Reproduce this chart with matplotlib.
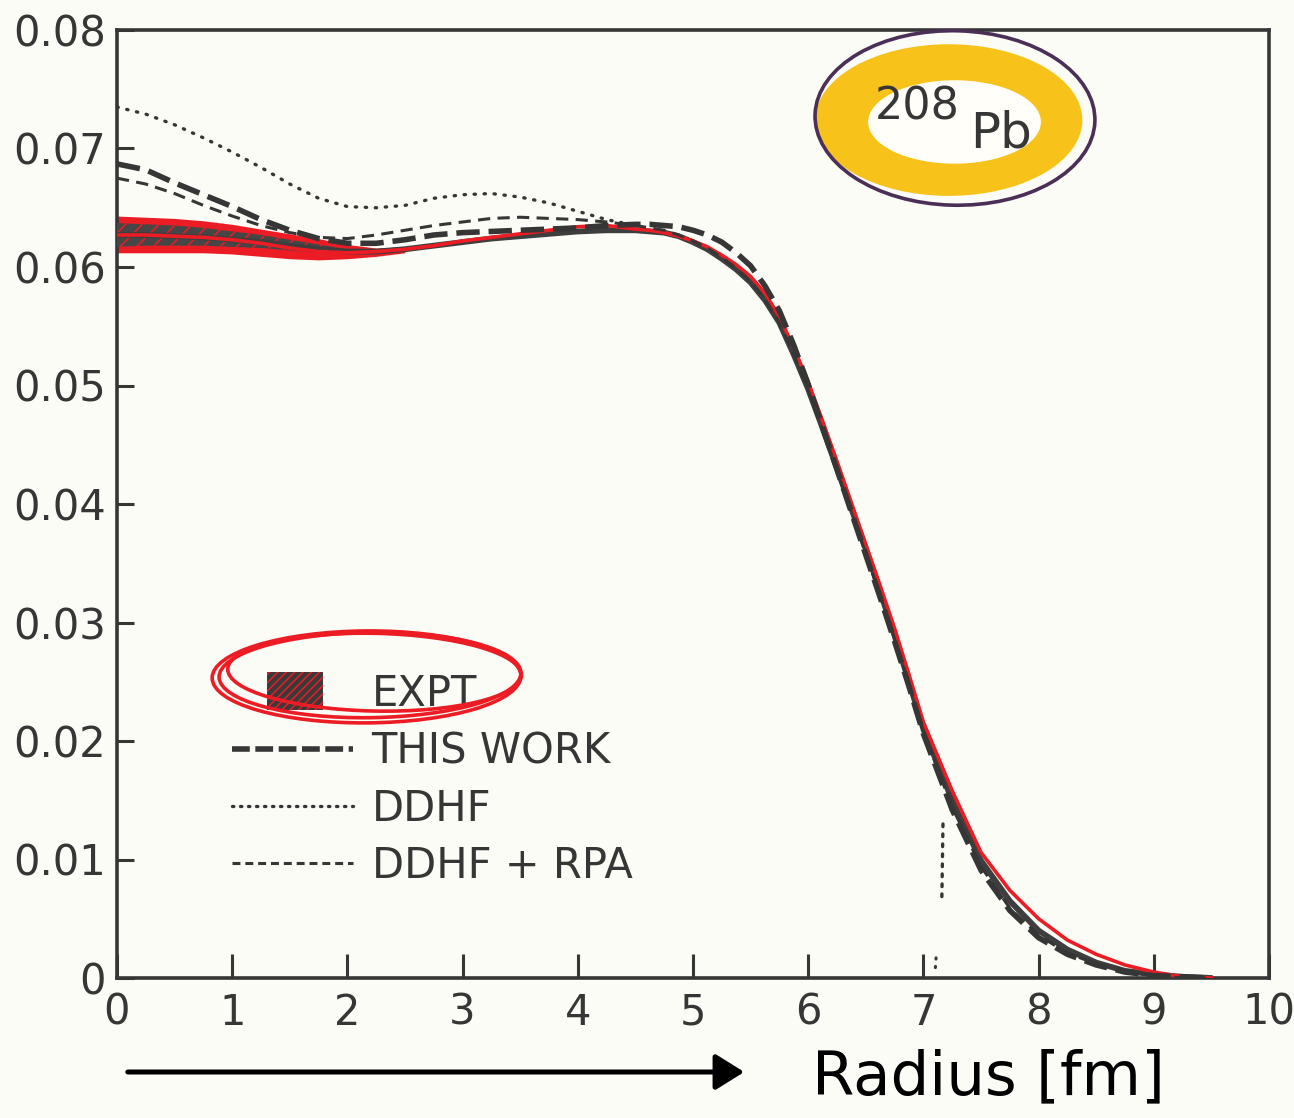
from __future__ import annotations

import matplotlib

matplotlib.use("Agg")

import matplotlib.pyplot as plt
import numpy as np
from matplotlib.legend_handler import HandlerPatch
from matplotlib.lines import Line2D
from matplotlib.patches import Ellipse, FancyArrowPatch, Patch, Rectangle


# radius grid [fm] shared by the curves (finer where the density falls off)
radius = [0.0, 0.25, 0.5, 0.75, 1.0, 1.25, 1.5, 1.75, 2.0, 2.25, 2.5, 2.75, 3.0, 3.25,
          3.5, 3.75, 4.0, 4.25, 4.5, 4.625, 4.75, 4.875, 5.0, 5.125, 5.25, 5.375, 5.5,
          5.625, 5.75, 5.875, 6.0, 6.125, 6.25, 6.375, 6.5, 6.625, 6.75, 6.875, 7.0,
          7.25, 7.5, 7.75, 8.0, 8.25, 8.5, 8.75, 9.0, 9.25, 9.5]

expt_center = [0.0627, 0.0627, 0.0626, 0.0625, 0.0623, 0.0621, 0.0618, 0.0615, 0.0613,
               0.0613, 0.0615, 0.0618, 0.0621, 0.0624, 0.0626, 0.0628, 0.0630, 0.0631,
               0.0631, 0.0630, 0.0629, 0.0626, 0.0621, 0.0615, 0.0607, 0.0598, 0.0587,
               0.0572, 0.0553, 0.0526, 0.0497, 0.0464, 0.0430, 0.0396, 0.0362, 0.0326,
               0.0289, 0.0250, 0.0210, 0.0150, 0.0099, 0.0065, 0.0040, 0.0024, 0.0013,
               0.0006, 0.0003, 0.0001, 0.0000]

expt_red = [0.0627, 0.0627, 0.0626, 0.0625, 0.0623, 0.0620, 0.0616, 0.0613, 0.0612,
            0.0613, 0.0615, 0.0618, 0.0622, 0.0625, 0.0628, 0.0631, 0.0634, 0.0635,
            0.0632, 0.0631, 0.0629, 0.0626, 0.0622, 0.0617, 0.0610, 0.0602, 0.0592,
            0.0578, 0.0558, 0.0532, 0.0503, 0.0470, 0.0436, 0.0401, 0.0366, 0.0331,
            0.0295, 0.0256, 0.0216, 0.0158, 0.0106, 0.0074, 0.0050, 0.0032, 0.0020,
            0.0011, 0.0005, 0.0001, 0.0000]

this_work = [0.0687, 0.0682, 0.0671, 0.0661, 0.0651, 0.0640, 0.0631, 0.0624, 0.0620,
             0.0620, 0.0623, 0.0627, 0.0629, 0.0630, 0.0631, 0.0632, 0.0633, 0.0635,
             0.0636, 0.0636, 0.0635, 0.0634, 0.0631, 0.0627, 0.0621, 0.0612, 0.0601,
             0.0584, 0.0563, 0.0534, 0.0501, 0.0465, 0.0429, 0.0393, 0.0357, 0.0321,
             0.0284, 0.0246, 0.0206, 0.0142, 0.0091, 0.0057, 0.0034, 0.0020, 0.0011,
             0.0005, 0.0002, 0.0001, 0.0000]

ddhf_rpa = [0.0675, 0.0670, 0.0662, 0.0652, 0.0643, 0.0635, 0.0629, 0.0625, 0.0624,
            0.0627, 0.0631, 0.0635, 0.0638, 0.0641, 0.0642, 0.0641, 0.0640, 0.0638,
            0.0635, 0.0633, 0.0631, 0.0627, 0.0622, 0.0616, 0.0608, 0.0599, 0.0588,
            0.0573, 0.0553, 0.0526, 0.0496, 0.0462, 0.0428, 0.0393, 0.0358, 0.0322,
            0.0286, 0.0248, 0.0208, 0.0144, 0.0094, 0.0059, 0.0036, 0.0021, 0.0012,
            0.0006, 0.0002, 0.0000, 0.0000]

# DDHF dotted curve, drawn until it hides under the others
ddhf_radius = [0.0, 0.25, 0.5, 0.75, 1.0, 1.25, 1.5, 1.75, 2.0, 2.25, 2.5, 2.75, 3.0,
               3.25, 3.5, 3.75, 4.0, 4.25, 4.5]
ddhf = [0.0735, 0.0729, 0.0720, 0.0709, 0.0697, 0.0684, 0.0670, 0.0658, 0.0651, 0.0650,
        0.0652, 0.0658, 0.0661, 0.0662, 0.0659, 0.0654, 0.0647, 0.0640, 0.0635]
ddhf_tail_radius = [7.17, 7.16]
ddhf_tail = [0.0130, 0.0066]
ddhf_foot_radius = [7.11, 7.10]
ddhf_foot = [0.0017, 0.0003]

# experimental uncertainty band (inner dark band and red band around it)
band_radius = [0.0, 0.25, 0.5, 0.75, 1.0, 1.25, 1.5, 1.75, 2.0, 2.25, 2.5]
band_lo = [0.0617, 0.0618, 0.0618, 0.0618, 0.0617, 0.0616, 0.0614, 0.0612, 0.0611, 0.0611, 0.0613]
band_hi = [0.0637, 0.0636, 0.0635, 0.0633, 0.0630, 0.0627, 0.0623, 0.0619, 0.0615, 0.0615, 0.0617]
red_lo = [0.0612, 0.0612, 0.0612, 0.0612, 0.0611, 0.0609, 0.0607, 0.0606, 0.0607, 0.0609, 0.0612]
red_hi = [0.0643, 0.0642, 0.0641, 0.0639, 0.0636, 0.0632, 0.0628, 0.0624, 0.0619, 0.0616, 0.0617]

x_ticks = [0, 1, 2, 3, 4, 5, 6, 7, 8, 9, 10]
y_ticks = [0.0, 0.01, 0.02, 0.03, 0.04, 0.05, 0.06, 0.07, 0.08]
y_tick_labels = ["0", "0.01", "0.02", "0.03", "0.04", "0.05", "0.06", "0.07", "0.08"]

INK = "#363636"
RED = "#ec1c24"
YELLOW = "#f7c31a"
PURPLE = "#4b2f57"
PAPER = "#fcfcf6"


def small_box(legend, orig_handle, xdescent, ydescent, width, height, fontsize):
    return Rectangle((-xdescent + 0.29 * width, -ydescent - 0.15 * height), 0.46 * width, 1.3 * height)


def main() -> None:
    plt.rcParams["font.family"] = ["DejaVu Sans"]
    plt.rcParams["hatch.linewidth"] = 1.1

    fig = plt.figure(figsize=(12.94, 11.18), dpi=100, facecolor=PAPER)
    ax = fig.add_axes([117 / 1294, 1 - 978 / 1118, 1152 / 1294, 948 / 1118])
    ax.set_facecolor(PAPER)

    r = np.array(radius)

    # experimental band
    ax.fill_between(band_radius, red_lo, red_hi, color=RED, lw=0, zorder=2)
    ax.fill_between(band_radius, band_lo, band_hi, facecolor="#464646", edgecolor=RED,
                    hatch="//", lw=0, zorder=3)
    ax.plot(r, expt_center, color="#3e3e3e", lw=4.2, solid_capstyle="round", zorder=4)
    ax.plot(r, expt_red, color=RED, lw=2.6, zorder=5)

    # calculations
    ax.plot(r, this_work, color=INK, lw=4.0, dashes=(4.2, 1.6), zorder=6)
    ax.plot(r, ddhf_rpa, color=INK, lw=2.2, dashes=(4.0, 2.4), zorder=6)
    ax.plot(ddhf_radius, ddhf, color=INK, lw=2.4, linestyle=(0, (0.4, 2.6)),
            dash_capstyle="round", zorder=6)
    ax.plot(ddhf_tail_radius, ddhf_tail, color=INK, lw=2.4, linestyle=(0, (0.8, 2.2)),
            dash_capstyle="round", zorder=6)
    ax.plot(ddhf_foot_radius, ddhf_foot, color=INK, lw=2.2, linestyle=(0, (0.4, 2.4)),
            dash_capstyle="round", zorder=6)

    ax.set_xlim(0, 10)
    ax.set_ylim(0, 0.08)
    ax.set_xticks(x_ticks)
    ax.set_yticks(y_ticks)
    ax.set_yticklabels(y_tick_labels)
    ax.tick_params(axis="both", direction="in", color=INK, width=2.2, labelcolor=INK,
                   labelsize=30)
    ax.tick_params(axis="x", length=17, pad=10)
    ax.tick_params(axis="y", length=12, pad=8)
    for spine in ax.spines.values():
        spine.set_color(INK)
        spine.set_linewidth(2.6)

    # legend
    handles = [
        Patch(facecolor="#3a3a3a", edgecolor=RED, hatch="////", lw=0),
        Line2D([], [], color=INK, lw=4.0, dashes=(3.2, 1.0)),
        Line2D([], [], color=INK, lw=2.4, linestyle=(0, (0.4, 2.0)), dash_capstyle="round"),
        Line2D([], [], color=INK, lw=2.2, dashes=(2.6, 1.6)),
    ]
    labels = ["EXPT", "THIS WORK", "DDHF", "DDHF + RPA"]
    leg = ax.legend(handles, labels, loc="upper left", bbox_to_anchor=(0.0998, 0.322),
                    frameon=False, fontsize=30, handlelength=2.9, handletextpad=0.45,
                    labelspacing=0.37, borderpad=0, borderaxespad=0,
                    handler_map={Patch: HandlerPatch(patch_func=small_box)})
    for text in leg.get_texts():
        text.set_color(INK)

    # red scribble around EXPT
    for dx, dy, w, h, ang in [(0.0, 0.0, 0.262, 0.090, 1.0), (0.004, 0.003, 0.255, 0.082, -1.5),
                              (-0.003, -0.002, 0.268, 0.097, 0.5)]:
        ax.add_patch(Ellipse((0.2196 + dx, 0.3196 + dy), w, h, angle=ang, transform=ax.transAxes,
                             fill=False, edgecolor=RED, lw=2.6, zorder=7, clip_on=False))

    # 208Pb highlight
    ax.add_patch(Ellipse((0.722, 0.905), 0.232, 0.160, transform=ax.transAxes,
                         facecolor=YELLOW, edgecolor="none", zorder=7, clip_on=False))
    ax.add_patch(Ellipse((0.727, 0.903), 0.150, 0.088, transform=ax.transAxes,
                         facecolor="#fffef8", edgecolor="none", zorder=8, clip_on=False))
    ax.add_patch(Ellipse((0.7274, 0.9072), 0.243, 0.184, angle=-2, transform=ax.transAxes,
                         fill=False, edgecolor=PURPLE, lw=2.6, zorder=9, clip_on=False))
    ax.text(0.695, 0.919, "208", transform=ax.transAxes, fontsize=32, color=INK,
            ha="center", va="center", zorder=10)
    ax.text(0.767, 0.891, "Pb", transform=ax.transAxes, fontsize=36, color=INK,
            ha="center", va="center", zorder=10)

    # axis caption below the plot
    fig.add_artist(FancyArrowPatch((125 / 1294, 1 - 1072 / 1118), (747 / 1294, 1 - 1072 / 1118),
                                   transform=fig.transFigure, arrowstyle="-|>,head_length=0.8,head_width=0.5",
                                   mutation_scale=22, color="black", lw=3.6))
    fig.text(812 / 1294, 1 - 1078 / 1118, "Radius [fm]", fontsize=44, color="black",
             ha="left", va="center")

    fig.savefig("out.png", dpi=100, facecolor=PAPER)
    plt.close(fig)


if __name__ == "__main__":
    main()
